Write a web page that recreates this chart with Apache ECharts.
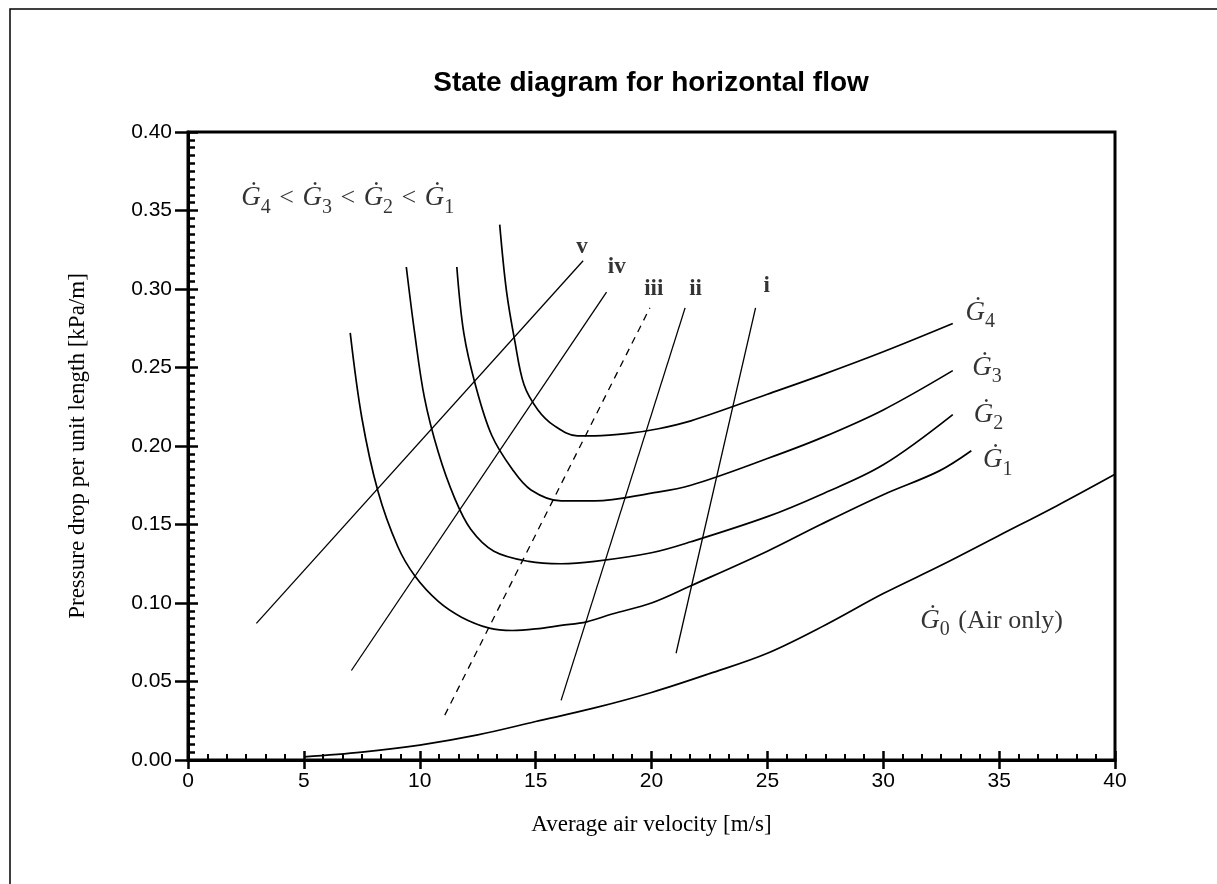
<!DOCTYPE html>
<html><head><meta charset="utf-8">
<script src="https://cdn.jsdelivr.net/npm/echarts@6/dist/echarts.min.js"></script>
<style>html,body{margin:0;padding:0;background:#fff}#c{width:1217px;height:884px}</style>
</head><body><div id="c"></div>
<script>
// ---- data ----
const titleText = 'State diagram for horizontal flow';
const xName = 'Average air velocity [m/s]';
const yName = 'Pressure drop per unit length [kPa/m]';

const G0 = [[5,0.002],[7.5,0.005],[10,0.0095],[12.5,0.016],[15,0.0245],[17.5,0.033],[20,0.043],[22.5,0.055],[25,0.068],[27.5,0.086],[30,0.106],[32.5,0.124],[35,0.143],[37.5,0.162],[40,0.182]];
const G1 = [[7.0,0.272],[7.5,0.218],[8.2,0.171],[9.05,0.136],[9.8,0.117],[10.8,0.101],[11.8,0.091],[13.0,0.084],[14.0,0.0825],[15.0,0.0835],[16.1,0.0857],[17.2,0.088],[18.3,0.093],[20,0.100],[21.7,0.111],[25,0.133],[27.3,0.150],[30,0.169],[32.4,0.184],[33.8,0.197]];
const G2 = [[9.42,0.314],[9.78,0.272],[10.2,0.231],[10.8,0.196],[11.5,0.167],[12.2,0.147],[13.2,0.133],[14.7,0.1265],[16.1,0.125],[17.55,0.1265],[20,0.132],[21.7,0.139],[25,0.155],[27.3,0.169],[30,0.188],[33,0.22]];
const G3 = [[11.6,0.314],[11.9,0.272],[12.4,0.239],[13.1,0.207],[14.0,0.185],[14.8,0.172],[16.1,0.165],[17.55,0.165],[20,0.170],[21.7,0.175],[25,0.192],[27.3,0.205],[30,0.223],[33,0.248]];
const G4 = [[13.45,0.341],[13.74,0.299],[14.1,0.267],[14.5,0.239],[15.1,0.223],[15.8,0.213],[16.8,0.2065],[17.55,0.2065],[19,0.208],[20.3,0.211],[21.7,0.216],[25,0.233],[27.3,0.245],[30,0.260],[33,0.278]];

const lineV   = [[2.95,0.087],[17.05,0.318]];
const lineIV  = [[7.05,0.057],[18.06,0.298]];
const lineIII = [[11.08,0.0286],[19.93,0.288]];
const lineII  = [[16.1,0.038],[21.45,0.288]];
const lineI   = [[21.06,0.068],[24.49,0.288]];

// labels: [x, y, text]
const romanLabels = [[17.0,0.327,'v'],[18.5,0.314,'iv'],[20.1,0.300,'iii'],[21.9,0.300,'ii'],[24.97,0.302,'i']];
const curveLabels = [[33.55,0.283,'4'],[33.84,0.248,'3'],[33.9,0.218,'2'],[34.3,0.189,'1']];
const airLabel = [31.6,0.087,'0',' (Air only)'];
const orderLabel = [2.3,0.356,['4','3','2','1']];

const GD = '\u0120'; // G with dot above

const rich = {
  g: {fontFamily:'Liberation Serif', fontStyle:'italic', fontSize:27, color:'#000', verticalAlign:'top'},
  s: {fontFamily:'Liberation Serif', fontSize:20, color:'#000', verticalAlign:'top', padding:[13,0,0,0]},
  t: {fontFamily:'Liberation Serif', fontSize:26, color:'#000', verticalAlign:'top', padding:[1,2,0,2]}
};
function gText(sub){ return '{g|' + GD + '}{s|' + sub + '}'; }

const chart = echarts.init(document.getElementById('c'), null, {renderer:'canvas'});

function curve(name, data){
  return {name, type:'line', data, smooth:0.35, showSymbol:false, symbol:'none', silent:true,
    lineStyle:{color:'#000', width:1.7}, z:3};
}
function straight(name, data, dashed){
  return {name, type:'line', data, showSymbol:false, symbol:'none', silent:true,
    lineStyle:{color:'#000', width:1.3, type: dashed ? [7,6] : 'solid'}, z:3};
}

const option = {
  animation:false,
  backgroundColor:'#fff',
  grid:{left:188, right:102, top:132, bottom:124, show:true, borderColor:'#000', borderWidth:3, backgroundColor:'transparent'},
  graphic:[
    {type:'rect', shape:{x:10, y:9, width:1400, height:1000}, style:{fill:'none', stroke:'#000', lineWidth:1.5}, silent:true},
    {type:'text', x:651, y:83, style:{text:titleText, font:'bold 28px "Liberation Sans", Arial, sans-serif', fill:'#000', textAlign:'center', textVerticalAlign:'middle'}, silent:true}
  ],
  xAxis:[
    {type:'value', min:0, max:40, interval:5, position:'bottom',
     axisLine:{onZero:false, lineStyle:{color:'#000', width:3}},
     axisTick:{inside:false, length:9, lineStyle:{color:'#000', width:2.5}},
     minorTick:{show:false},
     splitLine:{show:false},
     axisLabel:{color:'#000', fontSize:21, fontFamily:'Liberation Sans', margin:11},
     name:xName, nameLocation:'middle', nameGap:53,
     nameTextStyle:{fontFamily:'Liberation Serif', fontSize:23, color:'#000'}},
    {type:'value', min:0, max:40, interval:5, position:'bottom',
     axisLine:{show:false, onZero:false},
     axisTick:{inside:true, length:9, lineStyle:{color:'#000', width:2.5}},
     minorTick:{show:true, splitNumber:6, length:6, lineStyle:{color:'#000', width:2}},
     splitLine:{show:false}, axisLabel:{show:false}}
  ],
  yAxis:[
    {type:'value', min:0, max:0.4, interval:0.05, position:'left',
     axisLine:{onZero:false, lineStyle:{color:'#000', width:3}},
     axisTick:{inside:false, length:13, lineStyle:{color:'#000', width:2.5}},
     minorTick:{show:false},
     splitLine:{show:false},
     axisLabel:{color:'#000', fontSize:21, fontFamily:'Liberation Sans', margin:16, formatter:v=>v.toFixed(2)},
     name:yName, nameLocation:'middle', nameGap:99,
     nameTextStyle:{fontFamily:'Liberation Serif', fontSize:23, color:'#000'}},
    {type:'value', min:0, max:0.4, interval:0.05, position:'left',
     axisLine:{show:false, onZero:false},
     axisTick:{inside:true, length:10, lineStyle:{color:'#000', width:2.5}},
     minorTick:{show:true, splitNumber:10, length:7, lineStyle:{color:'#000', width:2.5}},
     splitLine:{show:false}, axisLabel:{show:false}}
  ],
  series:[
    curve('G0', G0), curve('G1', G1), curve('G2', G2), curve('G3', G3), curve('G4', G4),
    straight('v', lineV), straight('iv', lineIV), straight('iii', lineIII, true), straight('ii', lineII), straight('i', lineI),
    {type:'scatter', symbolSize:0, silent:true, z:5,
     data: romanLabels.map(r=>({value:[r[0],r[1]], label:{formatter:r[2]}})),
     label:{show:true, position:'inside', color:'#000', fontFamily:'Liberation Serif', fontSize:23, fontWeight:'bold'}},
    {type:'scatter', symbolSize:0, silent:true, z:5,
     data: curveLabels.map(r=>({value:[r[0],r[1]], label:{formatter:gText(r[2])}})),
     label:{show:true, position:'right', distance:0, rich}},
    {type:'scatter', symbolSize:0, silent:true, z:5,
     data:[{value:[airLabel[0],airLabel[1]], label:{formatter: gText(airLabel[2]) + '{t|' + airLabel[3] + '}'}}],
     label:{show:true, position:'right', distance:0, rich}},
    {type:'scatter', symbolSize:0, silent:true, z:5,
     data:[{value:[orderLabel[0],orderLabel[1]], label:{formatter: orderLabel[2].map(gText).join('{t| < }')}}],
     label:{show:true, position:'right', distance:0, rich}}
  ]
};
chart.setOption(option);
</script></body></html>
